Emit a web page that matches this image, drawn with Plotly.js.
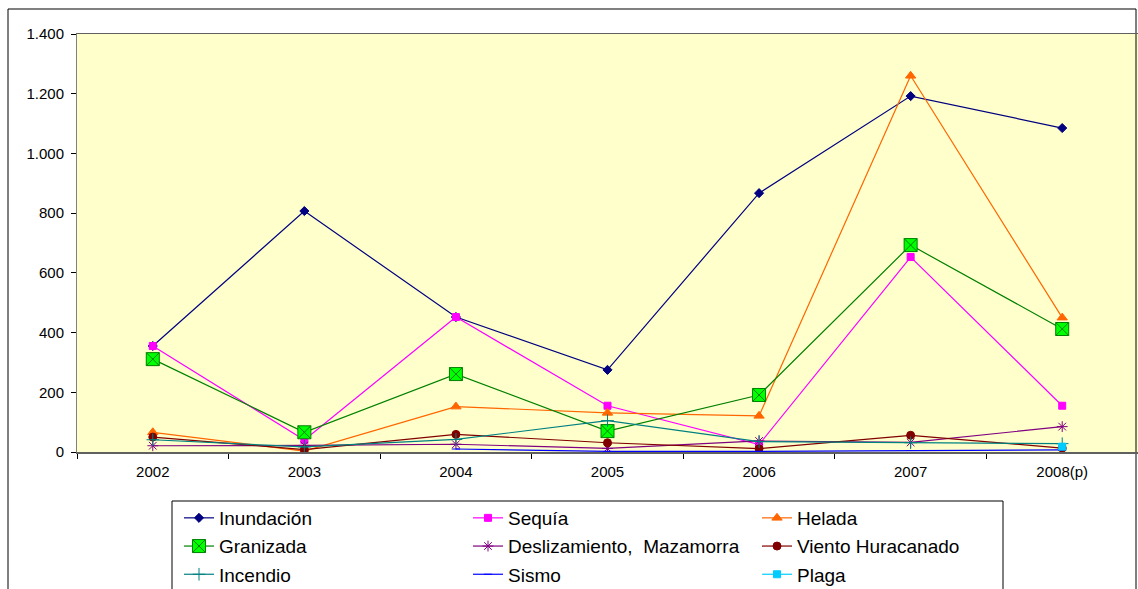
<!DOCTYPE html>
<html>
<head>
<meta charset="utf-8">
<script src="https://cdn.plot.ly/plotly-3.0.1.min.js"></script>
<style>
  html, body { margin: 0; padding: 0; background: #ffffff; }
  #chart { width: 1138px; height: 589px; }
</style>
</head>
<body>
<div id="chart"></div>
<script>
const years = ['2002', '2003', '2004', '2005', '2006', '2007', '2008(p)'];
const inundacion = [355, 807, 452, 275, 867, 1192, 1085];
const sequia = [355, 40, 452, 155, 25, 653, 155];
const helada = [66, 3, 152, 131, 121, 1260, 450];
const granizada = [311, 66, 261, 70, 191, 693, 412];
const deslizamiento = [21, 22, 26, 12, 37, 32, 85];
const viento = [50, 8, 59, 31, 11, 56, 13];
const incendio = [41, 17, 42, 105, 35, 31, 28];
const sismo = [null, null, 10, 2, 2, 5, 7];
const plaga = [null, null, null, null, null, null, 18];

function tr(name, y, color, symbol, size, legend, mcolor, mline) {
  return {
    type: 'scatter', mode: 'lines+markers', name: name, x: years, y: y,
    legend: legend, legendgroup: name,
    line: { color: color, width: 1.2 },
    marker: { symbol: symbol, size: size, color: mcolor || color,
              line: { color: mline || color, width: 1 } },
    connectgaps: false
  };
}

const data = [
  tr('Inundación', inundacion, '#000080', 'diamond', 7, 'legend'),
  tr('Sequía', sequia, '#FF00FF', 'square', 7, 'legend2'),
  tr('Helada', helada, '#FF6600', 'triangle-up', 9, 'legend3'),
  tr('Granizada', granizada, '#008000', 'square-x', 13, 'legend', '#00FF00', '#008000'),
  tr('Deslizamiento,  Mazamorra', deslizamiento, '#800080', 'asterisk-open', 9, 'legend2'),
  tr('Viento Huracanado', viento, '#800000', 'circle', 8, 'legend3'),
  tr('Incendio', incendio, '#008080', 'cross-thin-open', 9, 'legend'),
  tr('Sismo', sismo, '#0000FF', 'line-ew-open', 6, 'legend2'),
  tr('Plaga', plaga, '#00CCFF', 'square', 7, 'legend3')
];

function leg(px) {
  return {
    orientation: 'v', x: (px - 77) / 1061, y: (452 - 499) / 418,
    xanchor: 'left', yanchor: 'top',
    bgcolor: 'rgba(0,0,0,0)', borderwidth: 0,
    font: { size: 19, color: '#000000' },
    itemwidth: 30, tracegroupgap: 0.5
  };
}

const layout = {
  width: 1138, height: 589,
  margin: { l: 77, r: 0, t: 34, b: 137, autoexpand: false },
  paper_bgcolor: '#ffffff',
  plot_bgcolor: '#FFFFCC',
  separators: ',.',
  font: { family: 'Liberation Sans, Arial, sans-serif', color: '#000000' },
  showlegend: true,
  xaxis: {
    type: 'category', range: [-0.5, 6.5],
    showline: true, linecolor: '#606060', linewidth: 1.5, mirror: true,
    ticks: 'outside', tickson: 'boundaries', ticklen: 5, tickcolor: '#000000',
    ticklabelstandoff: 5,
    tickfont: { size: 15, color: '#000000' },
    showgrid: false, zeroline: false
  },
  yaxis: {
    range: [0, 1400], dtick: 200, tickformat: ',d',
    showline: true, linecolor: '#808080', linewidth: 1, mirror: true,
    ticks: 'outside', ticklen: 5, tickcolor: '#000000',
    ticklabelstandoff: 4,
    tickfont: { size: 15, color: '#000000' },
    showgrid: false, zeroline: false
  },
  legend: leg(179),
  legend2: leg(468),
  legend3: leg(757),
  shapes: [
    {
      type: 'rect', xref: 'paper', yref: 'paper',
      x0: (8 - 77) / 1061, x1: (1136 - 77) / 1061,
      y0: -0.5, y1: (452 - 9) / 418,
      line: { color: '#000000', width: 1 }, layer: 'below'
    },
    {
      type: 'rect', xref: 'paper', yref: 'paper',
      x0: (172 - 77) / 1061, x1: (1003 - 77) / 1061,
      y0: -0.4, y1: (452 - 501) / 418,
      line: { color: '#000000', width: 1 }, layer: 'below'
    }
  ]
};

Plotly.newPlot('chart', data, layout, { displayModeBar: false, staticPlot: true });
</script>
</body>
</html>
